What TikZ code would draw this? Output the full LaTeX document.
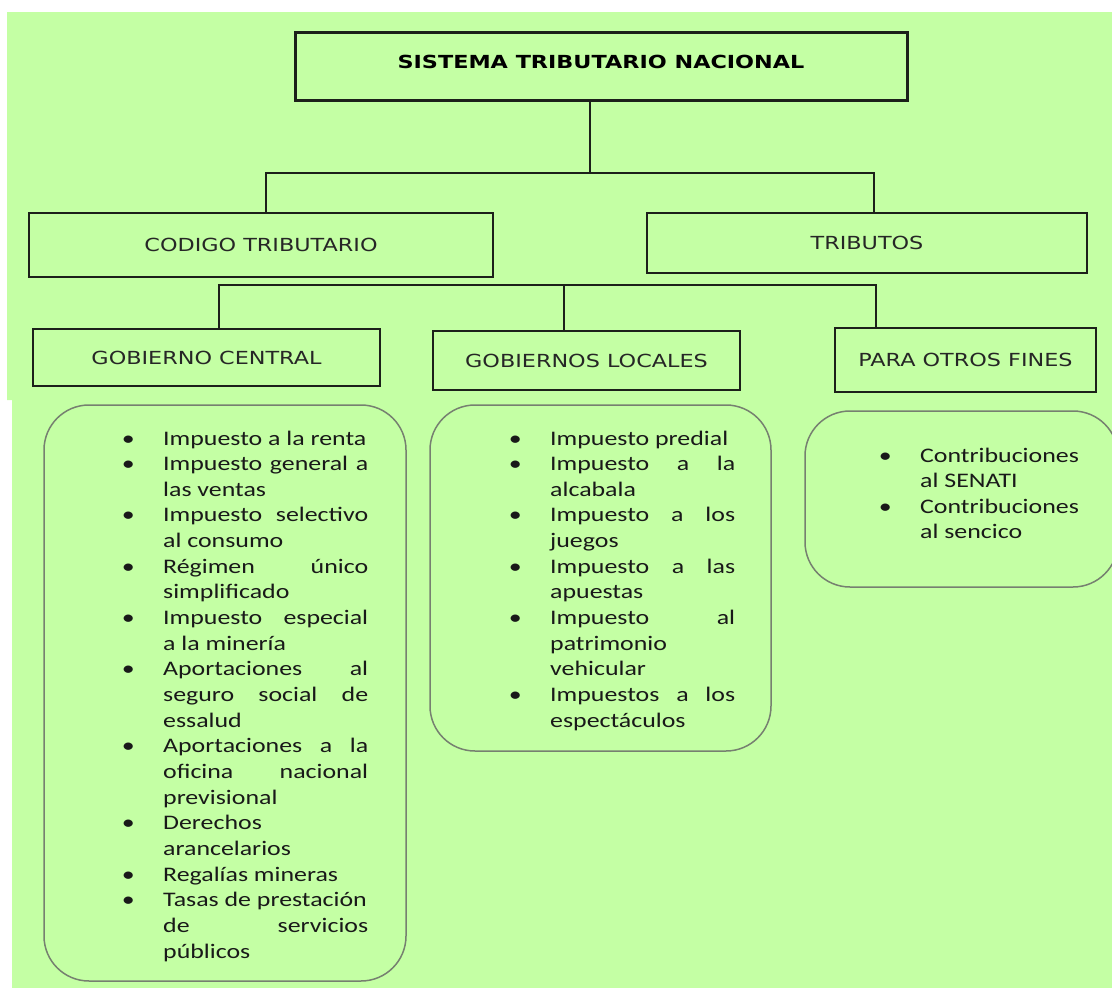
\documentclass[tikz,border=0pt]{standalone}
\usepackage{fontspec}
\usepackage{tikz}
\usetikzlibrary{positioning}
\newfontfamily\headfont[FakeStretch=1.24]{DejaVu Sans}
\newfontfamily\listfont[FakeStretch=1.25]{Carlito}
\definecolor{fondo}{RGB}{196,255,164}
\definecolor{borde}{RGB}{28,32,26}
\definecolor{contorno}{RGB}{118,128,112}
\tikzset{
    caja/.style={
        draw=borde,
        line width=1.5pt,
        rectangle,
        inner sep=0pt,
        text=black!85,
        font=\headfont\fontsize{18}{22}\selectfont
    },
    titulo/.style={caja, line width=3pt, text=black, text depth=8pt,
        font=\headfont\bfseries\fontsize{18}{22}\selectfont},
    redondo/.style={draw=contorno, line width=1.5pt, rounded corners=45pt, inner sep=0pt},
    lista/.style={inner sep=0pt, anchor=base west, text=black!90,
        font=\listfont\fontsize{20.7}{25.65}\selectfont},
    rama/.style={draw=borde, line width=1.5pt}
}
\newcommand{\pto}{\llap{\makebox[0pt]{\textbullet}\hspace{35pt}}}
\newcommand{\lineaj}[1]{\makebox[\linewidth][s]{#1}\par}
\newcommand{\linea}[1]{\mbox{#1}\par}

\begin{document}
\begin{tikzpicture}[x=1pt, y=-1pt]
	\useasboundingbox (0,0) rectangle (1112,988);
	\fill[fondo] (7,12) -- (1112,12) -- (1112,988) -- (12,988) -- (12,400) -- (7,400) -- cycle;

	\node[titulo, minimum width=612pt, minimum height=68pt] (sis) at (601,66) {SISTEMA TRIBUTARIO NACIONAL};
	\node[caja, minimum width=464pt, minimum height=64pt] (cod) at (261,245) {CODIGO TRIBUTARIO};
	\node[caja, minimum width=440pt, minimum height=60pt] (tri) at (867,243) {TRIBUTOS};
	\node[caja, minimum width=347pt, minimum height=57pt] (gc) at (206.5,357.5) {GOBIERNO CENTRAL};
	\node[caja, minimum width=307pt, minimum height=59pt] (gl) at (586.5,360.5) {GOBIERNOS LOCALES};
	\node[caja, minimum width=261pt, minimum height=64pt] (pof) at (965.5,360) {PARA OTROS FINES};

	\coordinate (n1) at (590,173);
	\coordinate (n1i) at (266,173);
	\coordinate (n1d) at (874,173);
	\coordinate (n2i) at (219,285);
	\coordinate (n2c) at (564,285);
	\coordinate (n2d) at (876,285);
	\draw[rama] (sis.south -| n1) -- (n1);
	\draw[rama] (n1i |- cod.north) -- (n1i) -- (n1d) -- (n1d |- tri.north);
	\draw[rama] (n2i |- gc.north) -- (n2i) -- (n2d) -- (n2d |- pof.north);
	\draw[rama] (n2c) -- (n2c |- gl.north);

	\node[redondo, minimum width=362pt, minimum height=576pt] (gcmarco) at (225,693) {};
	\node[redondo, minimum width=341pt, minimum height=346pt] (glmarco) at (600.5,578) {};
	\node[redondo, minimum width=313pt, minimum height=176pt] (pofmarco) at (961.5,499) {};

	\node[lista] (gclista) at (163,445) {\parbox[t]{205pt}{%
		\linea{\pto Impuesto a la renta}
		\lineaj{\pto Impuesto general a}
		\linea{las ventas}
		\lineaj{\pto Impuesto selectivo}
		\linea{al consumo}
		\lineaj{\pto Régimen único}
		\linea{simplificado}
		\lineaj{\pto Impuesto especial}
		\linea{a la minería}
		\lineaj{\pto Aportaciones al}
		\lineaj{seguro social de}
		\linea{essalud}
		\lineaj{\pto Aportaciones a la}
		\lineaj{oficina nacional}
		\linea{previsional}
		\linea{\pto Derechos}
		\linea{arancelarios}
		\linea{\pto Regalías mineras}
		\linea{\pto Tasas de prestación}
		\lineaj{de servicios}
		\linea{públicos}}};
	\node[lista] (gllista) at (550,445) {\parbox[t]{185pt}{%
		\linea{\pto Impuesto predial}
		\lineaj{\pto Impuesto a la}
		\linea{alcabala}
		\lineaj{\pto Impuesto a los}
		\linea{juegos}
		\lineaj{\pto Impuesto a las}
		\linea{apuestas}
		\lineaj{\pto Impuesto al}
		\linea{patrimonio}
		\linea{vehicular}
		\lineaj{\pto Impuestos a los}
		\linea{espectáculos}}};
	\node[lista] (poflista) at (920,462) {\parbox[t]{165pt}{%
		\linea{\pto Contribuciones}
		\linea{al SENATI}
		\linea{\pto Contribuciones}
		\linea{al sencico}}};
\end{tikzpicture}
\end{document}
